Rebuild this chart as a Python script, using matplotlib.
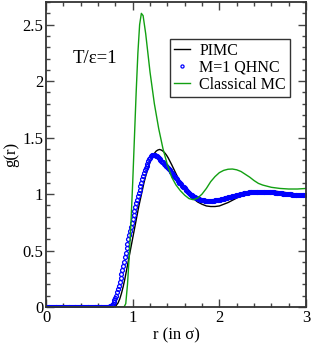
import numpy as np
import matplotlib
matplotlib.use("Agg")
import matplotlib.pyplot as plt
from matplotlib.ticker import MultipleLocator, FuncFormatter

plt.rcParams['font.family'] = ['Liberation Serif', 'DejaVu Serif']

# PIMC g(r)
r_pimc = [0.0, 0.76, 0.79, 0.81, 0.83, 0.85, 0.87, 0.89, 0.91, 0.93, 0.95, 0.97, 0.99,
          1.01, 1.03, 1.05, 1.07, 1.09, 1.11, 1.13, 1.15, 1.17, 1.19, 1.21, 1.23, 1.25,
          1.27, 1.29, 1.31, 1.33, 1.35, 1.37, 1.39, 1.41, 1.45, 1.50, 1.55, 1.60, 1.65,
          1.70, 1.75, 1.80, 1.85, 1.90, 1.95, 2.00, 2.10, 2.20, 2.30, 2.40, 2.50, 2.60,
          2.70, 2.80, 2.90, 3.00]
g_pimc = [0.0, 0.0, 0.005, 0.015, 0.035, 0.07, 0.12, 0.18, 0.25, 0.33, 0.41, 0.49, 0.57,
          0.65, 0.73, 0.81, 0.89, 0.96, 1.03, 1.10, 1.16, 1.21, 1.26, 1.30, 1.33, 1.36,
          1.38, 1.39, 1.395, 1.39, 1.38, 1.365, 1.345, 1.32, 1.26, 1.18, 1.10, 1.04, 0.995,
          0.96, 0.93, 0.91, 0.895, 0.89, 0.89, 0.895, 0.925, 0.965, 1.00, 1.02, 1.03, 1.03,
          1.02, 1.01, 1.00, 1.00]

# M=1 QHNC g(r), sampled every 0.01 from 0 to 3
r_qhnc = np.round(np.arange(0, 301) * 0.01, 2)
g_qhnc = [0.0] * 73 + [
    0.002, 0.005, 0.01, 0.02, 0.03, 0.045, 0.06,                                 # 0.73-0.79
    0.08, 0.10, 0.13, 0.16, 0.19, 0.22, 0.255, 0.29, 0.325, 0.36,               # 0.80-0.89
    0.40, 0.44, 0.48, 0.52, 0.56, 0.60, 0.64, 0.675, 0.71, 0.745,               # 0.90-0.99
    0.78, 0.815, 0.85, 0.885, 0.92, 0.95, 0.98, 1.01, 1.04, 1.07,               # 1.00-1.09
    1.10, 1.13, 1.16, 1.19, 1.21, 1.23, 1.25, 1.27, 1.29, 1.31,                 # 1.10-1.19
    1.32, 1.335, 1.345, 1.35, 1.35, 1.348, 1.345, 1.34, 1.335, 1.33,            # 1.20-1.29
    1.32, 1.31, 1.30, 1.29, 1.285, 1.28, 1.27, 1.26, 1.25, 1.245,               # 1.30-1.39
    1.24, 1.23, 1.22, 1.21, 1.20, 1.19, 1.18, 1.17, 1.16, 1.15,                 # 1.40-1.49
    1.14, 1.13, 1.12, 1.11, 1.10, 1.095, 1.085, 1.075, 1.065, 1.06,             # 1.50-1.59
    1.05, 1.04, 1.035, 1.025, 1.02, 1.01, 1.005, 0.995, 0.99, 0.985,            # 1.60-1.69
    0.98, 0.975, 0.97, 0.967, 0.963, 0.96, 0.957, 0.955, 0.952, 0.95,           # 1.70-1.79
    0.948, 0.946, 0.944, 0.943, 0.942, 0.941, 0.94, 0.94, 0.94, 0.94,           # 1.80-1.89
    0.94, 0.94, 0.941, 0.942, 0.943, 0.944, 0.945, 0.946, 0.948, 0.949,         # 1.90-1.99
    0.95, 0.952, 0.954, 0.956, 0.958, 0.96, 0.962, 0.964, 0.966, 0.968,         # 2.00-2.09
    0.97, 0.972, 0.974, 0.976, 0.978, 0.98, 0.982, 0.984, 0.986, 0.988,         # 2.10-2.19
    0.99, 0.992, 0.994, 0.996, 0.998, 1.0, 1.002, 1.004, 1.006, 1.008,          # 2.20-2.29
    1.01, 1.012, 1.013, 1.014, 1.015, 1.016, 1.017, 1.018, 1.019, 1.019,        # 2.30-2.39
    1.02, 1.021, 1.021, 1.022, 1.022, 1.022, 1.022, 1.022, 1.022, 1.022,        # 2.40-2.49
    1.022, 1.021, 1.021, 1.021, 1.02, 1.02, 1.02, 1.019, 1.019, 1.018,          # 2.50-2.59
    1.018, 1.017, 1.016, 1.015, 1.014, 1.013, 1.012, 1.011, 1.010, 1.009,       # 2.60-2.69
    1.008, 1.007, 1.006, 1.005, 1.004, 1.003, 1.002, 1.001, 1.000, 0.999,       # 2.70-2.79
    0.998, 0.998, 0.997, 0.997, 0.996, 0.996, 0.995, 0.995, 0.995, 0.994,      # 2.80-2.89
    0.994, 0.994, 0.994, 0.993, 0.993, 0.993, 0.993, 0.993, 0.993, 0.993,      # 2.90-2.99
    0.993]                                                                       # 3.00

# Classical MC g(r)
r_mc = [0.0, 0.88, 0.90, 0.92, 0.94, 0.96, 0.98, 1.00, 1.02, 1.04, 1.06, 1.08, 1.10,
        1.12, 1.15, 1.20, 1.25, 1.30, 1.35, 1.40, 1.45, 1.50, 1.55, 1.60, 1.65, 1.70,
        1.75, 1.80, 1.85, 1.90, 1.95, 2.00, 2.05, 2.10, 2.15, 2.20, 2.25, 2.30, 2.35,
        2.40, 2.45, 2.50, 2.55, 2.60, 2.70, 2.80, 2.90, 3.00]
g_mc = [0.0, 0.0, 0.0, 0.03, 0.2, 0.45, 0.75, 1.1, 1.5, 1.9, 2.25, 2.5, 2.6,
        2.58, 2.42, 2.08, 1.80, 1.58, 1.40, 1.26, 1.15, 1.08, 1.03, 0.99, 0.96, 0.95,
        0.965, 1.00, 1.05, 1.11, 1.155, 1.19, 1.21, 1.22, 1.222, 1.215, 1.20, 1.175, 1.15,
        1.12, 1.095, 1.08, 1.07, 1.06, 1.05, 1.045, 1.045, 1.05]

fig = plt.figure(figsize=(3.11, 3.45), dpi=100)
ax = fig.add_axes([0.148, 0.110, 0.836, 0.884])

ax.plot(r_pimc, g_pimc, color='black', lw=1.0, label='PIMC')
ax.plot(r_qhnc, g_qhnc, ls='none', marker='o', ms=2.8, mfc='none', mec='#0000ff',
        mew=0.9, label='M=1 QHNC')
ax.plot(r_mc, g_mc, color='#12a012', lw=1.0, label='Classical MC')

ax.set_xlim(0, 3)
ax.set_ylim(0, 2.7)
ax.xaxis.set_major_locator(MultipleLocator(1))
ax.xaxis.set_minor_locator(MultipleLocator(0.2))
ax.yaxis.set_major_locator(MultipleLocator(0.5))
ax.yaxis.set_minor_locator(MultipleLocator(0.1))
ax.yaxis.set_major_formatter(FuncFormatter(lambda v, p: '%g' % v))
ax.tick_params(which='both', direction='in', top=True, right=True, labelsize=12,
               width=1.0, colors='#444444', labelcolor='black')
ax.tick_params(which='major', length=6, pad=2)
ax.tick_params(which='minor', length=3)
for s in ax.spines.values():
    s.set_linewidth(1.3)
    s.set_color('#333333')

ax.set_xlabel('r (in σ)', fontsize=12, labelpad=1)
ax.set_ylabel('g(r)', fontsize=12, labelpad=2)
ax.text(0.31, 2.16, 'T/ε=1', fontsize=13.5)

leg = ax.legend(loc='upper right', bbox_to_anchor=(0.938, 0.879), fontsize=11.5,
                frameon=True, fancybox=False, edgecolor='#333333', framealpha=1,
                handlelength=1.0, handletextpad=0.6, borderpad=0.25, labelspacing=0.05,
                borderaxespad=0, markerscale=0.8)
leg.get_frame().set_linewidth(1.0)

fig.savefig('out.png', dpi=100)
